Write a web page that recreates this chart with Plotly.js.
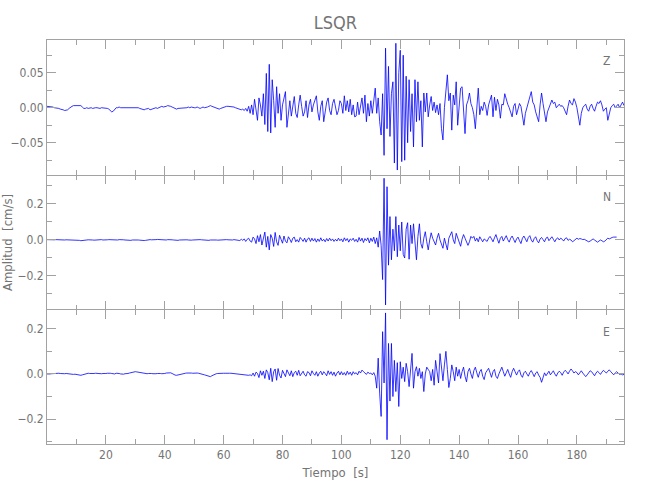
<!DOCTYPE html>
<html>
<head>
<meta charset="utf-8">
<script src="https://cdn.plot.ly/plotly-3.0.1.min.js"></script>
<style>html,body{margin:0;padding:0;background:#fff;}#chart{width:650px;height:500px;}</style>
</head>
<body>
<div id="chart"></div>
<script>
// Sampling of the traces (seconds)
const startTime = 0;
const sampleStep = 0.5;

// Component labels
const components = ["Z", "N", "E"];

// Vertical component (cm/s), one value every 0.5 s from 0 s
const valuesZ = [
 0.002,0.002,0.002,0.001,0.001,0.000,0.000,-0.001,-0.001,-0.002,-0.002,-0.003,-0.004,-0.004,-0.003,-0.001,0.001,0.002,0.003,0.003,
 0.003,0.003,0.002,0.003,0.001,-0.001,-0.001,0.000,-0.001,0.000,0.000,-0.001,0.000,0.000,0.000,-0.001,-0.001,0.000,0.000,-0.001,
 0.000,-0.001,-0.002,-0.004,-0.006,-0.005,-0.002,0.000,0.000,0.001,0.000,0.000,0.001,0.000,0.001,0.000,0.000,0.000,0.001,0.000,
 0.000,0.001,0.000,-0.001,-0.002,-0.003,-0.003,-0.002,-0.002,-0.001,-0.003,-0.002,-0.001,0.000,0.000,-0.001,0.000,0.001,0.002,0.001,
 0.001,0.002,0.003,0.003,0.002,0.001,0.000,-0.001,-0.002,-0.001,-0.001,0.000,0.000,-0.001,0.000,0.000,0.001,0.000,0.001,0.000,
 0.000,0.000,0.001,0.000,-0.001,0.000,0.001,0.000,0.000,0.001,0.002,0.003,0.002,0.001,0.000,-0.001,-0.002,-0.002,-0.001,0.000,
 0.001,0.001,0.002,0.002,0.002,0.002,0.001,0.001,0.000,-0.001,-0.002,-0.003,-0.003,-0.002,-0.004,-0.001,-0.005,0.002,-0.008,0.004,
 -0.010,0.012,-0.004,-0.018,0.014,0.004,-0.012,0.020,-0.024,0.049,-0.034,0.062,-0.036,0.040,0.010,-0.028,0.030,-0.008,0.020,-0.018,
 0.004,0.016,0.023,-0.028,-0.004,0.010,-0.012,0.006,0.016,-0.008,-0.014,0.004,0.018,0.002,-0.012,-0.006,0.010,-0.014,0.004,0.012,
 -0.006,0.004,0.012,0.017,-0.006,-0.018,0.002,0.010,-0.020,-0.006,0.008,0.014,-0.004,-0.010,0.006,0.012,0.002,-0.010,-0.004,0.010,
 0.006,-0.008,0.017,-0.004,0.010,-0.006,0.012,-0.010,0.004,-0.013,-0.012,0.008,-0.010,0.006,0.014,-0.008,0.018,-0.020,0.006,-0.012,
 0.010,-0.008,0.016,0.028,-0.008,0.014,-0.020,-0.039,0.020,-0.068,0.085,-0.030,0.059,-0.041,0.020,0.037,-0.079,0.092,-0.089,0.050,
 0.082,-0.077,0.075,-0.075,0.045,-0.050,0.040,-0.034,0.020,-0.056,0.040,-0.020,0.037,-0.018,0.010,-0.056,0.021,-0.006,0.021,-0.013,
 0.004,0.016,-0.004,0.008,-0.007,0.004,-0.010,0.006,-0.030,-0.046,0.000,0.020,0.047,0.010,0.021,-0.032,0.018,0.004,0.037,-0.025,
 0.010,0.028,0.030,-0.010,-0.037,0.004,0.010,0.021,0.006,0.000,-0.010,-0.030,0.006,0.028,-0.010,0.002,-0.004,0.008,0.002,-0.011,
 0.004,0.010,0.018,-0.013,0.015,-0.004,0.012,0.004,-0.015,0.005,0.004,0.020,0.010,0.005,0.000,-0.006,-0.013,0.002,0.006,-0.010,
 0.000,0.006,0.002,-0.010,-0.025,-0.008,0.000,0.010,0.016,0.023,0.008,0.004,-0.006,-0.013,-0.020,0.004,0.021,0.006,-0.008,-0.020,
 -0.006,0.000,0.004,0.011,0.006,0.008,0.000,0.003,0.005,0.002,0.003,0.000,-0.006,-0.010,0.002,0.011,0.006,0.004,0.013,0.008,
 0.000,-0.012,-0.025,-0.008,0.000,0.003,0.005,-0.002,-0.005,0.002,0.005,-0.001,-0.005,0.002,0.008,0.006,0.010,0.004,-0.005,-0.002,
 0.000,-0.018,-0.010,0.000,0.003,0.005,0.000,0.002,0.005,0.000,0.004,0.008,0.003
];

// North component (cm/s)
const valuesN = [
 0.002,0.001,0.000,-0.001,0.000,0.001,0.002,0.001,0.000,-0.001,-0.002,-0.001,0.000,0.001,0.001,0.000,-0.001,0.000,0.001,0.002,
 0.001,0.000,-0.002,-0.004,-0.004,-0.003,-0.001,0.000,0.001,0.002,0.001,0.000,-0.001,0.000,0.001,0.002,0.003,0.002,0.000,-0.001,
 0.000,0.001,0.002,0.001,0.000,-0.001,-0.002,-0.001,0.000,0.002,0.003,0.002,0.001,0.000,-0.001,-0.002,-0.003,-0.002,0.000,0.001,
 0.002,0.001,0.000,-0.001,-0.003,-0.004,-0.003,-0.002,0.000,0.001,0.002,0.001,0.000,0.001,0.002,0.003,0.002,0.000,-0.001,-0.002,
 -0.001,0.000,0.002,0.003,0.002,0.001,0.000,-0.002,-0.003,-0.002,0.000,0.001,0.002,0.003,0.003,0.001,0.000,-0.002,-0.001,0.000,
 0.001,0.000,-0.001,0.000,0.002,0.001,0.000,-0.001,-0.002,-0.003,-0.002,0.000,0.001,0.002,0.001,0.000,-0.001,0.000,0.001,0.000,
 -0.001,0.000,0.002,0.001,0.000,-0.002,0.000,0.002,0.001,-0.002,0.001,-0.003,0.004,-0.002,0.006,-0.008,0.004,0.010,-0.006,-0.012,
 0.016,0.006,-0.020,0.024,-0.010,0.030,-0.028,0.010,0.044,-0.040,0.020,-0.055,0.030,0.010,-0.036,0.042,-0.010,-0.030,0.026,0.004,
 -0.018,0.022,-0.006,-0.016,0.018,0.004,-0.014,0.010,0.016,-0.010,0.002,-0.012,0.014,0.004,-0.008,0.010,-0.012,0.006,0.012,-0.008,
 0.010,-0.006,0.008,-0.012,0.006,-0.008,0.012,-0.006,0.004,-0.010,0.008,-0.006,0.010,-0.004,0.006,-0.008,0.004,-0.006,0.010,-0.004,
 0.006,-0.010,0.012,-0.004,0.008,-0.012,0.006,-0.002,0.010,-0.008,0.004,-0.012,0.014,-0.006,0.010,-0.014,0.008,-0.004,0.012,-0.016,
 0.010,-0.008,0.016,-0.020,0.012,-0.040,0.050,-0.030,-0.220,0.343,-0.361,0.296,-0.140,0.130,-0.110,0.060,-0.060,0.130,-0.093,0.083,
 -0.060,0.100,-0.080,-0.100,0.060,0.096,-0.107,0.083,-0.020,0.090,-0.030,-0.110,0.020,0.090,-0.020,-0.046,0.010,0.046,-0.010,-0.055,
 0.000,0.040,0.010,-0.010,-0.028,0.010,0.037,0.000,-0.020,-0.046,0.010,-0.030,-0.055,0.010,0.030,0.046,0.000,-0.020,0.037,0.010,
 -0.010,-0.035,0.005,0.030,0.010,-0.010,-0.030,-0.010,0.020,0.010,0.020,-0.006,0.010,-0.010,0.018,0.004,-0.010,0.006,0.000,-0.008,
 0.010,0.020,0.006,-0.010,0.012,0.030,0.004,-0.018,0.010,0.020,-0.006,0.014,0.024,0.002,-0.012,0.010,0.022,0.004,-0.014,0.006,
 0.016,-0.004,-0.020,0.010,0.022,0.006,-0.010,0.014,0.024,0.000,-0.012,0.008,0.018,-0.004,-0.016,0.006,0.014,0.002,-0.010,0.010,
 0.016,-0.004,0.008,0.018,0.004,-0.010,0.006,0.012,0.000,0.010,0.004,-0.006,0.008,0.012,-0.002,0.004,0.000,-0.010,-0.004,0.006,
 0.010,0.004,0.008,0.006,0.002,0.004,0.000,-0.004,-0.010,-0.006,0.002,0.006,0.000,-0.008,-0.012,-0.006,0.000,-0.004,-0.010,-0.006,
 0.004,0.010,0.006,0.012,0.014,0.016,0.014,0.016
];

// East component (cm/s)
const valuesE = [
 0.000,-0.001,0.000,0.001,0.002,0.003,0.003,0.002,0.003,0.002,0.001,0.000,0.001,0.002,0.001,0.000,-0.002,-0.003,-0.002,-0.001,
 -0.003,-0.005,-0.007,-0.006,-0.004,-0.002,0.000,0.002,0.003,0.002,0.001,0.000,0.002,0.003,0.002,0.001,0.000,0.001,0.002,0.001,
 0.002,0.003,0.004,0.003,0.002,0.001,0.000,0.003,0.004,0.002,0.000,-0.002,-0.001,0.001,0.000,0.002,0.004,0.006,0.008,0.010,
 0.010,0.009,0.008,0.006,0.004,0.002,0.001,0.000,0.001,0.002,0.003,0.002,0.001,0.000,0.001,0.002,0.003,0.002,0.001,0.000,
 0.002,0.004,0.005,0.006,0.005,0.002,-0.002,-0.005,-0.006,-0.004,-0.002,0.000,0.001,0.002,0.003,0.004,0.005,0.004,0.004,0.003,
 0.004,0.005,0.004,0.003,0.002,0.000,-0.002,-0.004,-0.006,-0.009,-0.011,-0.012,-0.008,-0.004,-0.001,0.001,0.002,0.003,0.003,0.002,
 0.003,0.003,0.002,0.003,0.003,0.003,0.002,0.001,0.000,-0.001,-0.002,-0.003,-0.004,-0.004,-0.005,-0.005,-0.006,-0.006,-0.004,-0.008,
 0.004,-0.010,0.008,0.002,-0.016,0.014,-0.006,0.012,-0.020,0.018,0.006,-0.026,0.025,-0.034,0.010,0.022,-0.028,0.024,-0.006,-0.018,
 0.016,-0.002,-0.012,0.018,0.004,-0.008,0.014,-0.012,0.006,0.012,-0.006,0.016,-0.008,0.002,0.012,-0.004,-0.010,0.010,0.006,-0.008,
 0.014,0.002,-0.006,0.010,-0.010,0.004,0.012,-0.004,0.010,0.002,-0.008,0.014,-0.002,0.010,-0.006,0.008,-0.010,0.004,0.012,-0.004,
 0.010,-0.004,0.006,-0.006,0.012,-0.002,0.008,-0.006,0.010,0.000,0.006,-0.004,0.012,0.004,0.017,0.010,0.004,-0.002,0.008,0.002,
 0.004,-0.004,0.006,-0.010,-0.063,0.070,-0.085,-0.188,0.187,-0.040,0.270,-0.291,0.135,-0.120,0.135,-0.100,0.060,-0.078,0.050,-0.144,
 0.054,-0.020,0.030,-0.034,0.047,0.010,-0.056,0.040,0.091,-0.063,0.010,0.032,-0.010,0.025,-0.020,0.010,-0.078,0.000,0.030,0.020,
 0.010,-0.030,0.020,-0.050,0.060,0.010,-0.040,0.090,0.020,-0.030,0.040,0.100,0.020,-0.060,-0.020,0.040,0.010,-0.030,0.030,-0.010,
 0.020,-0.020,0.010,0.030,-0.010,-0.035,0.010,0.025,0.000,-0.020,0.015,0.030,0.005,-0.015,0.010,0.020,-0.010,-0.025,0.005,0.015,
 0.025,0.005,-0.015,0.010,0.020,-0.010,-0.020,0.000,0.015,0.030,0.010,-0.010,0.005,0.020,0.000,-0.015,0.010,0.025,0.010,-0.005,
 0.010,0.018,-0.005,-0.015,0.005,0.012,0.000,-0.010,0.006,0.015,0.002,-0.012,0.004,0.010,-0.005,-0.015,-0.037,-0.010,0.005,-0.008,
 0.002,0.012,-0.004,0.006,0.014,0.000,-0.010,0.004,0.012,0.006,-0.006,0.008,0.016,0.010,0.000,0.012,0.022,0.014,0.004,0.010,
 0.006,-0.004,0.008,0.014,0.004,-0.006,-0.012,-0.004,0.006,0.014,0.010,0.002,-0.008,0.004,0.012,0.006,-0.002,0.008,0.016,0.010,
 0.004,0.012,0.018,0.010,0.002,-0.004,0.004,0.010,0.004,-0.002,0.000,-0.004,-0.002
];

// Axis ticks
const xTickValues = [20, 40, 60, 80, 100, 120, 140, 160, 180];
const yTicksZ = [-0.05, 0.00, 0.05];
const yTicksN = [-0.2, 0.0, 0.2];
const yTicksE = [-0.2, 0.0, 0.2];

const lineColor = '#0000ff';
const axisColor = '#a2a2a2';
const textColor = '#747474';
const fontFam = '"DejaVu Sans Condensed", "Liberation Sans Narrow", "Liberation Sans", sans-serif';

function trace(vals, xa, ya) {
  return {
    type: 'scatter', mode: 'lines',
    y: vals, x0: startTime, dx: sampleStep,
    xaxis: xa, yaxis: ya,
    line: {color: lineColor, width: 0.8},
    hoverinfo: 'skip', showlegend: false
  };
}

const data = [
  trace(valuesZ, 'x3', 'y'),
  trace(valuesN, 'x2', 'y2'),
  trace(valuesE, 'x', 'y3')
];

function xAxis(anchor, labels, line) {
  return {
    anchor: anchor, range: [0, 196], tickvals: xTickValues,
    showticklabels: labels, ticks: 'inside', ticklen: 9, tickwidth: 1, tickcolor: axisColor,
    minor: {dtick: 10, tick0: 0, ticks: 'inside', ticklen: 5, tickcolor: axisColor, tickwidth: 1},
    showline: line, linecolor: axisColor, linewidth: 1, mirror: 'ticks',
    showgrid: false, zeroline: false, fixedrange: true,
    tickfont: {family: fontFam, size: 12, color: textColor}
  };
}
function yAxis(domain, range, ticks, fmt, minorStep, anchor) {
  return {
    domain: domain, range: range, tickvals: ticks, tickformat: fmt, anchor: anchor,
    ticks: 'inside', ticklen: 9, tickwidth: 1, tickcolor: axisColor,
    minor: {dtick: minorStep, tick0: 0, ticks: 'inside', ticklen: 5, tickcolor: axisColor, tickwidth: 1},
    showline: true, linecolor: axisColor, linewidth: 1, mirror: 'ticks',
    showgrid: false, zeroline: false, fixedrange: true,
    tickfont: {family: fontFam, size: 12, color: textColor}
  };
}

const layout = {
  width: 650, height: 500,
  margin: {l: 47, r: 26, t: 40, b: 56},
  paper_bgcolor: '#ffffff', plot_bgcolor: '#ffffff',
  title: {text: 'LSQR', x: 0.516, xanchor: 'center', y: 0.954, yanchor: 'middle',
          font: {family: fontFam, size: 18, color: textColor}},
  xaxis: Object.assign(xAxis('y3', true, true), {
    title: {text: 'Tiempo  [s]', standoff: 6, font: {family: fontFam, size: 13, color: textColor}}
  }),
  xaxis2: Object.assign(xAxis('y2', false, false), {matches: 'x'}),
  xaxis3: Object.assign(xAxis('y', false, true), {matches: 'x'}),
  yaxis: yAxis([0.6658, 1], [-0.0961, 0.0967], yTicksZ, '.2f', 0.025, 'x3'),
  yaxis2: Object.assign(yAxis([0.3317, 0.6658], [-0.389, 0.361], yTicksN, '.1f', 0.1, 'x2'), {
    title: {text: 'Amplitud  [cm/s]', standoff: 1, font: {family: fontFam, size: 13, color: textColor}}
  }),
  yaxis3: yAxis([0, 0.3317], [-0.31, 0.283], yTicksE, '.1f', 0.1, 'x'),
  annotations: components.map((c, i) => ({
    text: c, xref: 'paper', yref: 'paper', x: 0.970, y: [0.9488, 0.612, 0.278][i],
    showarrow: false, xanchor: 'center', yanchor: 'middle',
    font: {family: fontFam, size: 12, color: textColor}
  }))
};

Plotly.newPlot('chart', data, layout, {staticPlot: true, displayModeBar: false});
</script>
</body>
</html>
